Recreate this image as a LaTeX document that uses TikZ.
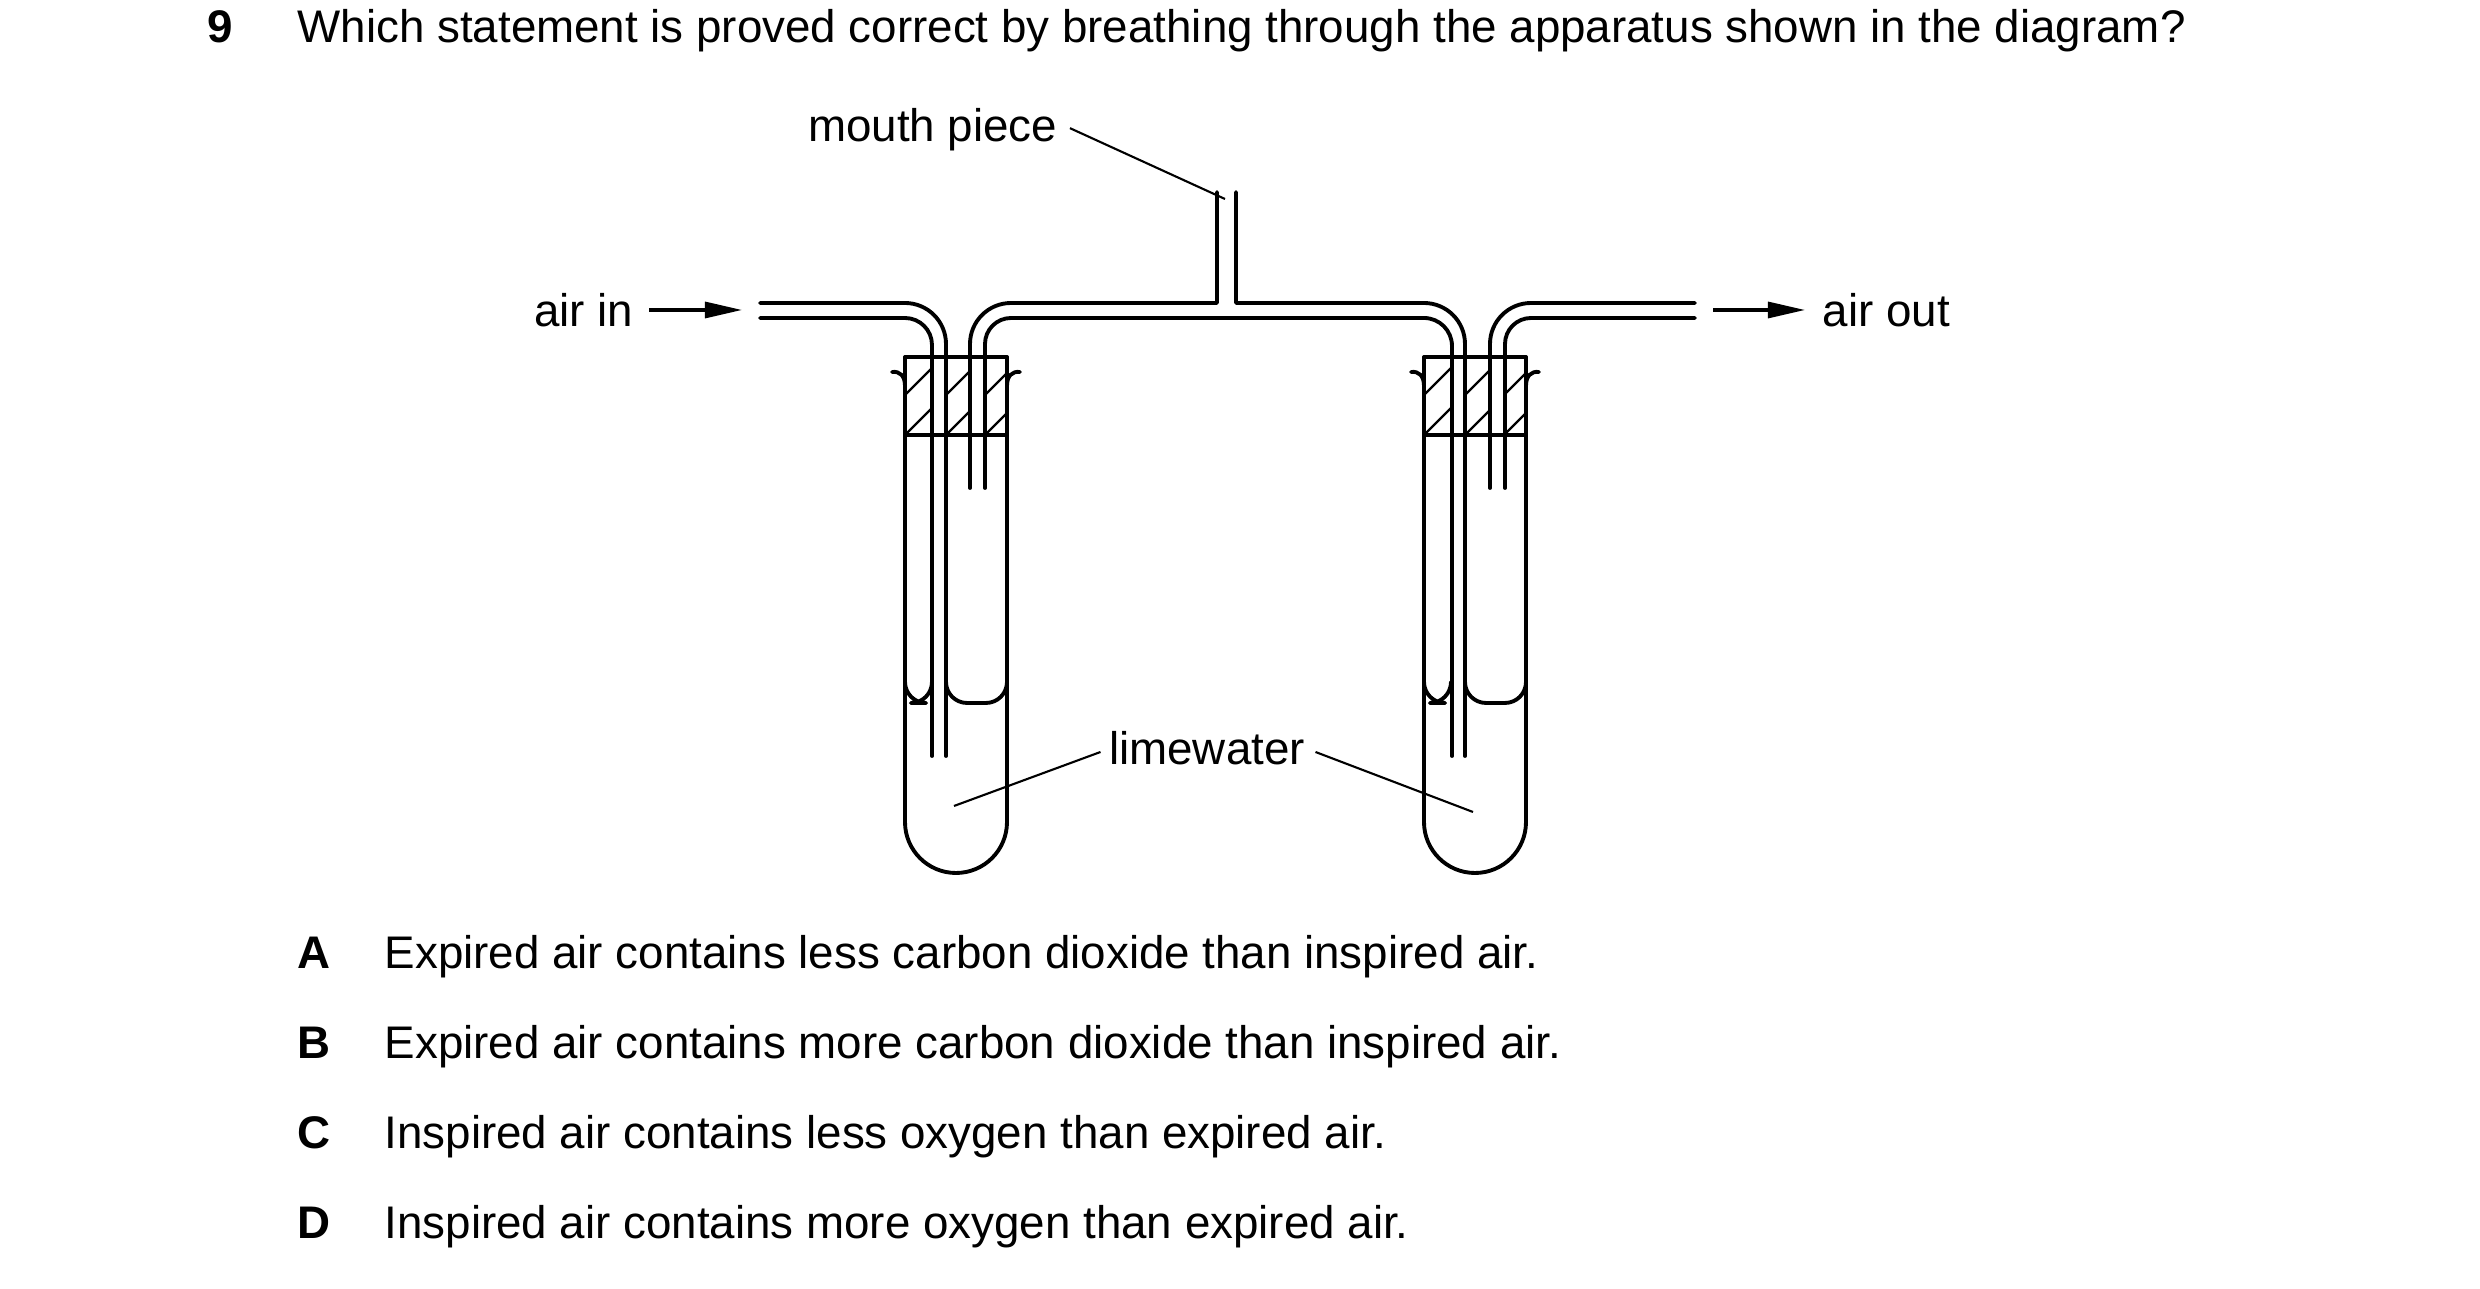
\documentclass[tikz,border=0pt]{standalone}
\usepackage{fontspec}
\setmainfont{Liberation Sans}
\usetikzlibrary{arrows.meta}
\begin{document}
\begin{tikzpicture}[x=0.01cm,y=-0.01cm,
  glass/.style={line width=1.1pt,line cap=round,line join=round},
  lead/.style={line width=0.6pt},
  hatch/.style={line width=0.7pt},
  txt/.style={inner sep=0pt,font=\fontsize{13pt}{15pt}\selectfont},
  arr/.style={line width=0.9pt,-{Triangle[length=0.37cm,width=0.16cm]}}]
\useasboundingbox (0,0) rectangle (2480,1289);
% texts
\node[txt,anchor=base west,font=\fontsize{13pt}{15pt}\selectfont\bfseries] (q9) at (207,43) {9};
\node[txt,anchor=base west] (q) at (297,43) {Which statement is proved correct by breathing through the apparatus shown in the diagram?};
\node[txt,anchor=base east] (mp) at (1058,142) {mouth piece};
\node[txt,anchor=east] (ain) at (634,310) {air in};
\node[txt,anchor=west] (aout) at (1822,310) {air out};
\node[txt] (lw) at (1207,748) {limewater};
\foreach \l/\t [count=\i] in {A/Expired air contains less carbon dioxide than inspired air.,
  B/Expired air contains more carbon dioxide than inspired air.,
  C/Inspired air contains less oxygen than expired air.,
  D/Inspired air contains more oxygen than expired air.}{
  \node[txt,anchor=base west,font=\fontsize{13pt}{15pt}\selectfont\bfseries] (l\l) at (297,{969+90*(\i-1)}) {\l};
  \node[txt,anchor=base west] (o\l) at (384,{969+90*(\i-1)}) {\t};
}
% arrows
\coordinate (a1) at (649,310); \coordinate (a2) at (742,310);
\draw[arr] (a1) -- (a2);
\coordinate (b1) at (1713,310); \coordinate (b2) at (1805,310);
\draw[arr] (b1) -- (b2);
% test tubes
\foreach \dx in {0,519}{
 \begin{scope}[xshift=\dx*0.01cm]
  \draw[glass] (905,357) -- (905,822) arc[start angle=180,end angle=0,radius=51] -- (1007,357);
  % rim curls
  \draw[glass] (892,372) .. controls (900,371) and (905,376) .. (905,386);
  \draw[glass] (1020,372) .. controls (1012,371) and (1007,376) .. (1007,386);
  % stopper
  \draw[glass] (905,357) rectangle (1007,435);
  \foreach \a/\b in {905/932,946/970,985/1007}{
    \begin{scope}
      \clip (\a,357) rectangle (\b,435);
      \foreach \k in {-120,-80,...,80}{\draw[hatch] (\a+\k,435) -- ++(110,-110);}
    \end{scope}}
  % liquid
  \draw[glass,rounded corners=6pt] (905,690) -- (905,703) -- (932,703) -- (932,690);
  \draw[glass,rounded corners=6pt] (946,690) -- (946,703) -- (1007,703) -- (1007,690);
 \end{scope}}
% tube lines of the left test tube
\draw[glass] (932,345) -- (932,756);
\draw[glass] (946,344) -- (946,756);
\draw[glass] (970,344) -- (970,488);
\draw[glass] (985,344) -- (985,488);
% right test tube
\draw[glass] (1452,346) -- (1452,756);
\draw[glass] (1465,344) -- (1465,756);
\draw[glass] (1490,344) -- (1490,488);
\draw[glass] (1505,344) -- (1505,488);
% bends: air in
\draw[glass] (760,303) -- (905,303) arc[start angle=-90,end angle=0,radius=41];
\draw[glass] (760,318) -- (905,318) arc[start angle=-90,end angle=0,radius=27];
% connecting tube with mouthpiece
\draw[glass] (970,344) arc[start angle=180,end angle=270,radius=41] -- (1217,303) -- (1217,192);
\draw[glass] (1236,192) -- (1236,303) -- (1424,303) arc[start angle=-90,end angle=0,radius=41];
\draw[glass] (985,344) arc[start angle=180,end angle=270,radius=26] -- (1424,318) arc[start angle=-90,end angle=0,radius=28];
% air out
\draw[glass] (1490,344) arc[start angle=180,end angle=270,radius=41] -- (1695,303);
\draw[glass] (1505,344) arc[start angle=180,end angle=270,radius=26] -- (1695,318);
% leaders
\coordinate (mpe) at (1225,199);
\draw[lead] (mp.east) ++(12,-2) -- (mpe);
\coordinate (lw1) at (954,806); \coordinate (lw2) at (1473,812);
\draw[lead] (lw.west) ++(-8,4) -- (lw1);
\draw[lead] (lw.east) ++(10,4) -- (lw2);
\end{tikzpicture}
\end{document}
